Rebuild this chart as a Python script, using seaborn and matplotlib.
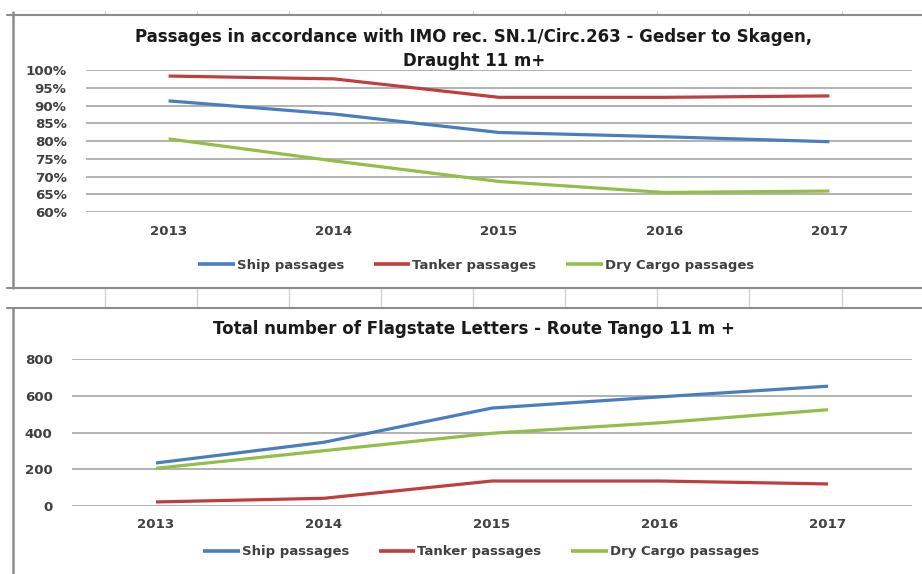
import pandas as pd
import seaborn as sns
import matplotlib.pyplot as plt
from matplotlib.lines import Line2D
from matplotlib.ticker import PercentFormatter

# Values
years = [2013, 2014, 2015, 2016, 2017]
series_names = ['Ship passages', 'Tanker passages', 'Dry Cargo passages']

imo_ship = [0.913, 0.876, 0.824, 0.812, 0.798]
imo_tanker = [0.983, 0.975, 0.923, 0.923, 0.927]
imo_dry = [0.806, 0.744, 0.686, 0.655, 0.659]

flag_ship = [234, 347, 533, 594, 652]
flag_tanker = [22, 42, 136, 136, 120]
flag_dry = [205, 301, 396, 453, 524]

top_title = 'Passages in accordance with IMO rec. SN.1/Circ.263 - Gedser to Skagen,\nDraught 11 m+'
bottom_title = 'Total number of Flagstate Letters - Route Tango 11 m +'
pct_ticks = [0.60, 0.65, 0.70, 0.75, 0.80, 0.85, 0.90, 0.95, 1.00]
count_ticks = [0, 200, 400, 600, 800]

palette = {'Ship passages': '#4A7DC0', 'Tanker passages': '#C23E3E',
           'Dry Cargo passages': '#93BF48'}


def long_table(ship, tanker, dry):
    parts = []
    for name, vals in zip(series_names, [ship, tanker, dry]):
        parts.append(pd.DataFrame({'Year': years, 'Value': vals, 'Series': name}))
    return pd.concat(parts, ignore_index=True)


imo_df = long_table(imo_ship, imo_tanker, imo_dry)
flag_df = long_table(flag_ship, flag_tanker, flag_dry)

sns.set_style('white')
plt.rcParams['font.family'] = ['DejaVu Sans']

W, H = 922, 574
fig = plt.figure(figsize=(W / 100, H / 100), dpi=100)


def px_axes(x0, x1, ytop, ybot):
    return fig.add_axes([x0 / W, 1 - ybot / H, (x1 - x0) / W, (ybot - ytop) / H])


ax1 = px_axes(86, 912, 70, 212)
ax2 = px_axes(72, 912, 359, 506)

tick_color = '#404040'
grid_color = '#ABABAB'
small = 9.6

charts = [(ax1, imo_df, pct_ticks, 476, 265), (ax2, flag_df, count_ticks, 481, 552)]
for ax, df, ticks, legend_x, legend_y in charts:
    sns.lineplot(data=df, x='Year', y='Value', hue='Series', palette=palette,
                 linewidth=2.3, ax=ax, solid_capstyle='butt')
    ax.set_xlim(years[0] - 0.5, years[-1] + 0.5)
    ax.set_ylim(ticks[0], ticks[-1])
    ax.set_yticks(ticks)
    ax.set_xticks(years)
    ax.set_xlabel('')
    ax.set_ylabel('')
    ax.grid(axis='y', color=grid_color, linewidth=1.3)
    ax.set_axisbelow(True)
    for s in ax.spines.values():
        s.set_visible(False)
    ax.tick_params(axis='both', length=0, labelsize=small, labelcolor=tick_color)
    ax.tick_params(axis='y', pad=14)
    ax.tick_params(axis='x', pad=9)
    for lab in ax.get_xticklabels() + ax.get_yticklabels():
        lab.set_fontweight('bold')
    sns.move_legend(ax, 'center', bbox_to_anchor=(legend_x / W, 1 - legend_y / H),
                    bbox_transform=fig.transFigure, ncol=3, frameon=False,
                    title=None, handlelength=2.8, handletextpad=0.15,
                    columnspacing=2.2, prop={'size': 9.5, 'weight': 'bold'})
    leg = ax.get_legend()
    for t in leg.get_texts():
        t.set_color(tick_color)
    for h in leg.get_lines():
        h.set_linewidth(2.6)

ax1.yaxis.set_major_formatter(PercentFormatter(1.0, decimals=0))

fig.text(474 / W, 1 - 49 / H, top_title, ha='center', va='center',
         multialignment='center', fontsize=12, fontweight='bold',
         color='#1a1a1a', linespacing=1.5)
fig.text(474 / W, 1 - 329 / H, bottom_title, ha='center', va='center',
         fontsize=12, fontweight='bold', color='#1a1a1a')

# spreadsheet cell borders around the pasted charts
frame = '#8C8C8C'
light = '#D4D4D4'


def hline(y, x0=7, x1=W, color=frame, lw=1.5):
    fig.add_artist(Line2D([x0 / W, x1 / W], [1 - y / H, 1 - y / H], color=color, lw=lw))


def vline(x, y0, y1, color=frame, lw=1.8):
    fig.add_artist(Line2D([x / W, x / W], [1 - y0 / H, 1 - y1 / H], color=color, lw=lw))


for cx in [105, 197, 289, 381, 473, 565, 657, 749, 842]:
    vline(cx, 288, 308, color=light, lw=1.0)
    vline(cx, 11, 15, color=light, lw=1.0)
hline(15)
hline(288)
hline(308)
vline(13, 12, 288)
vline(13, 308, H)

fig.savefig('out.png', dpi=100, facecolor='white')
